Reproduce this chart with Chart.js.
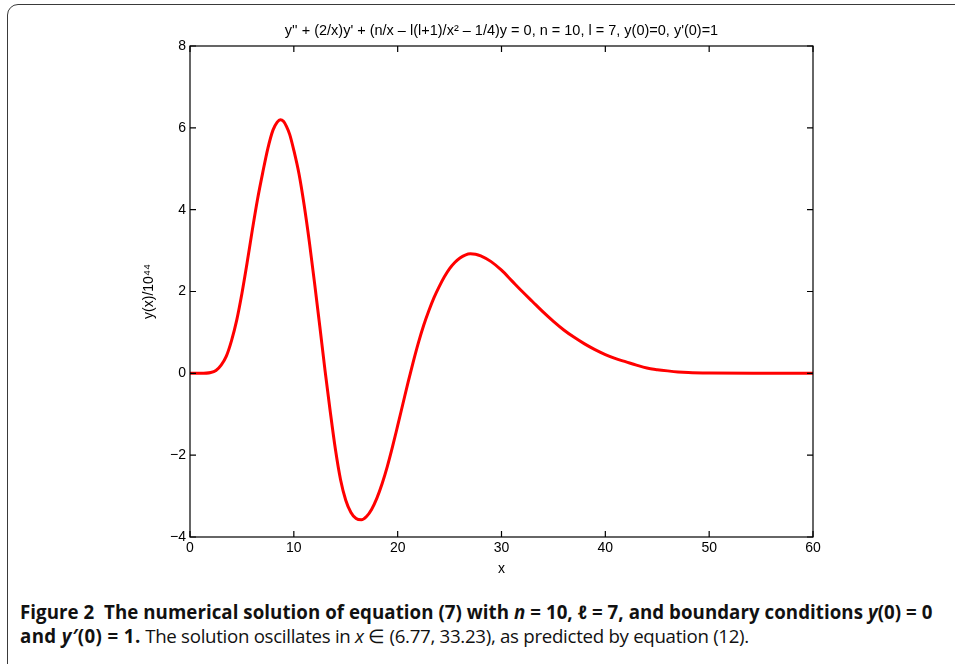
<!DOCTYPE html>
<html>
<head>
<meta charset="utf-8">
<script src="https://cdn.jsdelivr.net/npm/chart.js@4.4.1/dist/chart.umd.min.js"></script>
<style>
  html, body { margin: 0; padding: 0; background: #fff; width: 955px; height: 664px; overflow: hidden; position: relative; }
  #frame {
    position: absolute; left: 7px; top: 4px; width: 980px; height: 680px;
    border: 1.5px solid #3a3a3a; border-radius: 11px; box-sizing: border-box;
  }
  #wrap { position: absolute; left: 0; top: 0; width: 955px; height: 585px; }
  #caption {
    position: absolute; left: 20px; top: 600px; width: 935px; white-space: nowrap;
    font-family: "Open Sans", "Noto Sans", sans-serif; font-size: 18.7px; line-height: 24px;
    color: #111; letter-spacing: 0;
  }
  #caption b { font-weight: 700; letter-spacing: 0.05px; }
  #caption .rest { letter-spacing: -0.3px; }
</style>
</head>
<body>
<div id="frame"></div>
<div id="wrap"><canvas id="chart"></canvas></div>
<div id="caption"><b>Figure 2&nbsp; The numerical solution of equation (7) with <i>n</i> = 10, <i>ℓ</i> = 7, and boundary conditions <i>y</i>(0) = 0<br><span style="letter-spacing:0.4px">and <i>y′</i>(0) = 1.</span></b><span class="rest"> The solution oscillates in <i>x</i> ∈ (6.77, 33.23), as predicted by equation (12).</span></div>
<script>
const xValues = [0, 1, 2, 2.5, 3, 3.5, 4, 4.5, 5, 5.5, 6, 6.5, 7, 7.5, 8, 8.4, 8.7, 9.0, 9.3, 9.6, 10, 10.5, 11,
    11.5, 12, 12.5, 13, 13.5, 14, 14.5, 15, 15.5, 16, 16.5, 17, 17.5, 18, 18.5, 19, 19.5, 20,
    20.5, 21, 21.5, 22, 22.5, 23, 23.5, 24, 24.5, 25, 25.5, 26, 26.5, 27, 27.5, 28, 29, 30, 31, 32, 33, 34, 35, 36, 37, 38, 39, 40,
    41, 42, 43, 44, 45, 46, 47, 48, 50, 55, 60];
const yValues = [0, 0, 0.02, 0.07, 0.2, 0.42, 0.8, 1.3, 1.95, 2.7, 3.5, 4.25, 4.9, 5.5, 5.95, 6.14, 6.2, 6.16, 6.03, 5.84, 5.45, 4.87, 4.1,
    3.2, 2.2, 1.15, 0.08, -0.92, -1.85, -2.6, -3.1, -3.4, -3.55, -3.58, -3.5, -3.32, -3.05, -2.7, -2.28, -1.8, -1.28,
    -0.75, -0.22, 0.28, 0.75, 1.17, 1.53, 1.85, 2.12, 2.36, 2.56, 2.71, 2.82, 2.89, 2.92, 2.91, 2.87, 2.73, 2.52, 2.26, 2.0, 1.75, 1.5, 1.27, 1.06, 0.88, 0.72, 0.58, 0.46,
    0.36, 0.28, 0.2, 0.13, 0.09, 0.06, 0.035, 0.02, 0.008, 0.001, 0];
const xTicks = [0, 10, 20, 30, 40, 50, 60];
const yTicks = [-4, -2, 0, 2, 4, 6, 8];
const chartTitle = "y'' + (2/x)y' + (n/x \u2013 l(l+1)/x\u00B2 \u2013 1/4)y = 0, n = 10, l = 7, y(0)=0, y'(0)=1";
const yLabel = 'y(x)/10\u2074\u2074';
const xLabel = 'x';

const points = xValues.map((x, i) => ({ x: x, y: yValues[i] }));
const font = { family: '"Liberation Sans", Arial, sans-serif', size: 14, weight: 'normal' };
const titleFont = { family: '"Liberation Sans", Arial, sans-serif', size: 14.5, weight: 'normal' };

// box around the plot plus inward ticks on all four sides
const boxPlugin = {
    id: 'box',
    afterDraw(chart) {
        const c = chart.ctx, a = chart.chartArea;
        const xs = chart.scales.x, ys = chart.scales.y;
        c.save();
        c.strokeStyle = '#000';
        c.lineWidth = 1.2;
        c.strokeRect(a.left, a.top, a.right - a.left, a.bottom - a.top);
        c.beginPath();
        xTicks.forEach(v => {
            const p = xs.getPixelForValue(v);
            c.moveTo(p, a.bottom); c.lineTo(p, a.bottom - 6);
            c.moveTo(p, a.top); c.lineTo(p, a.top + 6);
        });
        yTicks.forEach(v => {
            const p = ys.getPixelForValue(v);
            c.moveTo(a.left, p); c.lineTo(a.left + 6, p);
            c.moveTo(a.right, p); c.lineTo(a.right - 6, p);
        });
        c.stroke();
        c.restore();
    }
};

new Chart(document.getElementById('chart').getContext('2d'), {
    type: 'scatter',
    data: {
        datasets: [{
            data: points,
            showLine: true,
            borderColor: '#ff0000',
            borderWidth: 3,
            pointRadius: 0,
            cubicInterpolationMode: 'monotone'
        }]
    },
    options: {
        responsive: true,
        maintainAspectRatio: false,
        animation: false,
        layout: { padding: { left: 141, right: 142, top: 0, bottom: 7 } },
        plugins: {
            legend: { display: false },
            tooltip: { enabled: false },
            title: {
                display: true,
                fullSize: false,
                text: chartTitle,
                color: '#000',
                font: titleFont,
                padding: { top: 22, bottom: 6.6 }
            }
        },
        scales: {
            x: {
                type: 'linear',
                min: 0, max: 60,
                afterBuildTicks: s => { s.ticks = xTicks.map(v => ({ value: v })); },
                afterFit: s => { s.height = 41; },
                grid: { display: false, drawTicks: false },
                border: { display: false },
                ticks: { color: '#000', font: font, padding: 3, maxRotation: 0 },
                title: { display: true, text: xLabel, color: '#000', font: font, padding: { top: 0, bottom: 0 } }
            },
            y: {
                type: 'linear',
                min: -4, max: 8,
                afterBuildTicks: s => { s.ticks = yTicks.map(v => ({ value: v })); },
                afterFit: s => { s.width = 49; },
                grid: { display: false, drawTicks: false },
                border: { display: false },
                ticks: {
                    color: '#000', font: font, padding: 4,
                    callback: v => String(v).replace('-', '\u2212')
                },
                title: { display: true, text: yLabel, color: '#000', font: font, padding: { top: 0, bottom: 0 } }
            }
        }
    },
    plugins: [boxPlugin]
});
</script>
</body>
</html>
